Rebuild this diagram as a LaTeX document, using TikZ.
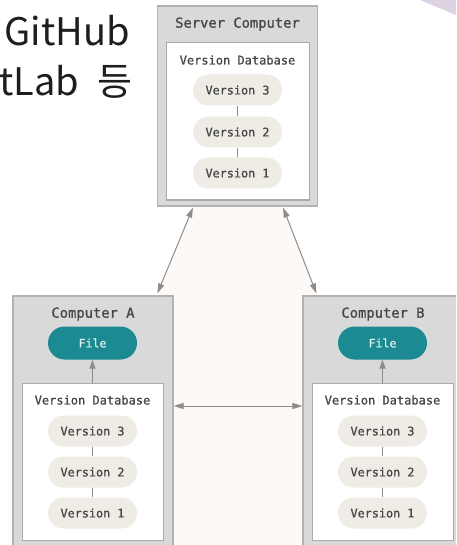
\documentclass[tikz,border=0pt]{standalone}
\usepackage{fontspec}
\setmonofont[FakeBold=0.9,AutoFakeBold=0.9]{DejaVu Sans Mono}
\newfontfamily\kr{Noto Sans CJK KR}
\usetikzlibrary{arrows.meta,calc}
\definecolor{boxgray}{RGB}{217,217,217}
\definecolor{boxline}{RGB}{178,178,178}
\definecolor{innerline}{RGB}{170,170,170}
\definecolor{pillfill}{RGB}{238,236,229}
\definecolor{teal}{RGB}{27,138,146}
\definecolor{txt}{RGB}{70,70,70}
\definecolor{arrowgray}{RGB}{140,140,140}
\definecolor{bgpink}{RGB}{253,249,246}
\definecolor{lav}{RGB}{221,209,226}
\tikzset{
  outerbox/.style={draw=boxline,fill=boxgray,line width=1.2pt,minimum width=160pt,inner sep=0pt},
  innerbox/.style={draw=innerline,fill=white,line width=1pt,minimum width=141pt,minimum height=157pt,inner sep=0pt},
  pill/.style={fill=pillfill,rounded corners=15.5pt,minimum width=89pt,minimum height=31pt,inner sep=0pt,
     font=\ttfamily\bfseries\fontsize{11.8}{12}\selectfont,text=txt},
  filepill/.style={fill=teal,rounded corners=16.5pt,minimum width=89pt,minimum height=33pt,inner sep=0pt,
     font=\ttfamily\bfseries\fontsize{11.6}{12}\selectfont,text={rgb,255:red,225;green,240;blue,240}},
  title/.style={font=\ttfamily\bfseries\fontsize{13.8}{14}\selectfont,text=txt,inner sep=0pt},
  dblabel/.style={font=\ttfamily\bfseries\fontsize{12}{13}\selectfont,text=txt,inner sep=0pt},
  vline/.style={draw=arrowgray,line width=0.8pt},
  conn/.style={draw=arrowgray,line width=1pt,{Triangle[length=10pt,width=6pt]}-{Triangle[length=10pt,width=6pt]}},
  upconn/.style={draw=arrowgray,line width=1pt,-{Triangle[length=9pt,width=6pt]}},
  kortext/.style={font=\kr\fontsize{38}{40}\selectfont,text={rgb,255:red,30;green,30;blue,30},inner sep=0pt}
}
\begin{document}
\begin{tikzpicture}[x=1pt,y=-1pt]
\useasboundingbox (0,0) rectangle (456,545);
\clip (0,0) rectangle (456,545);
% background tint
\fill[bgpink] (193,207) -- (283,207) -- (317,295) -- (303,295) -- (303,545) -- (173,545) -- (173,295) -- (158,295) -- cycle;
\fill[lav] (420,0) -- (456,0) -- (456,15) -- cycle;
% Korean text
\node[kortext,anchor=base east] (gh) at (130,46) {GitHub};
\node[kortext,anchor=base east] (gl) at (133,96) {tLab\hspace{10pt} 등};
% Server
\node[outerbox,minimum height=200pt] (srv) at (237.5,106) {};
\node[innerbox,minimum width=143pt] (srvdb) at (237.5,121.5) {};
\node[title] (srvt) at (237.5,24) {Server Computer};
\node[dblabel] (srvdbt) at (237.5,60) {Version Database};
\node[pill] (s3) at (237.5,90) {Version 3};
\node[pill] (s2) at (237.5,132) {Version 2};
\node[pill] (s1) at (237.5,173) {Version 1};
\draw[vline] (s3.south) -- (s2.north);
\draw[vline] (s2.south) -- (s1.north);
% Computer A
\node[outerbox,minimum height=254pt] (aout) at (93,423) {};
\node[innerbox] (adb) at (92.5,461.5) {};
\node[title] (at) at (93,314) {Computer A};
\node[filepill] (af) at (92.5,343) {File};
\node[dblabel] (adbt) at (92.5,400) {Version Database};
\node[pill] (a3) at (92.5,431) {Version 3};
\node[pill] (a2) at (92.5,472) {Version 2};
\node[pill] (a1) at (92.5,513) {Version 1};
\draw[vline] (a3.south) -- (a2.north);
\draw[vline] (a2.south) -- (a1.north);
\draw[upconn] (adb.north) -- (af.south);
% Computer B
\node[outerbox,minimum height=254pt] (bout) at (383,423) {};
\node[innerbox] (bdb) at (382.5,461.5) {};
\node[title] (bt) at (383,314) {Computer B};
\node[filepill] (bf) at (382.5,343) {File};
\node[dblabel] (bdbt) at (382.5,400) {Version Database};
\node[pill] (b3) at (382.5,431) {Version 3};
\node[pill] (b2) at (382.5,472) {Version 2};
\node[pill] (b1) at (382.5,513) {Version 1};
\draw[vline] (b3.south) -- (b2.north);
\draw[vline] (b2.south) -- (b1.north);
\draw[upconn] (bdb.north) -- (bf.south);
% connectors
\draw[conn] ([xshift=36pt,yshift=-1pt]srv.south west) -- ([xshift=145pt,yshift=2pt]aout.north west);
\draw[conn] ([xshift=-35pt,yshift=-1pt]srv.south east) -- ([xshift=14pt,yshift=2pt]bout.north west);
\draw[conn] ([yshift=17pt]aout.east) -- ([yshift=17pt]bout.west);
\end{tikzpicture}
\end{document}
